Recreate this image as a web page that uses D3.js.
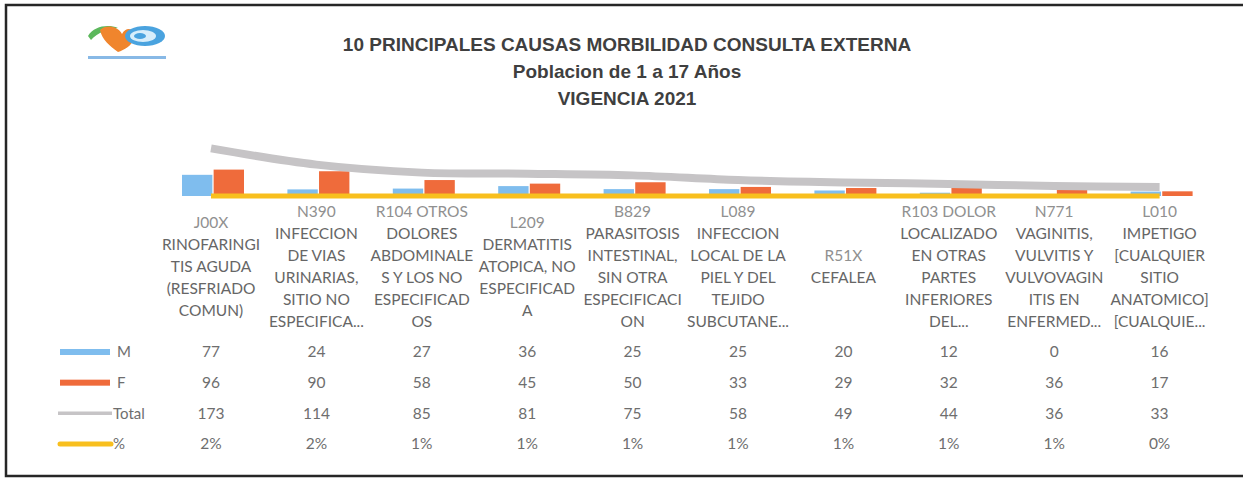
<!DOCTYPE html>
<html>
<head>
<meta charset="utf-8">
<script src="https://cdn.jsdelivr.net/npm/d3@7"></script>
<style>
  body { margin: 0; background: #fff; }
  svg text { font-family: Lato, "Open Sans", sans-serif; }
</style>
</head>
<body>
<svg id="canvas" width="1243" height="480"></svg>
<script>
var codes = ["J00X", "N390", "R104", "L209", "B829", "L089", "R51X", "R103", "N771", "L010"];
var labels = [
  ["J00X", "RINOFARINGI", "TIS AGUDA", "(RESFRIADO", "COMUN)"],
  ["N390", "INFECCION", "DE VIAS", "URINARIAS,", "SITIO NO", "ESPECIFICA..."],
  ["R104 OTROS", "DOLORES", "ABDOMINALE", "S Y LOS NO", "ESPECIFICAD", "OS"],
  ["L209", "DERMATITIS", "ATOPICA, NO", "ESPECIFICAD", "A"],
  ["B829", "PARASITOSIS", "INTESTINAL,", "SIN OTRA", "ESPECIFICACI", "ON"],
  ["L089", "INFECCION", "LOCAL DE LA", "PIEL Y DEL", "TEJIDO", "SUBCUTANE..."],
  ["R51X", "CEFALEA"],
  ["R103 DOLOR", "LOCALIZADO", "EN OTRAS", "PARTES", "INFERIORES", "DEL..."],
  ["N771", "VAGINITIS,", "VULVITIS Y", "VULVOVAGIN", "ITIS EN", "ENFERMED..."],
  ["L010", "IMPETIGO", "[CUALQUIER", "SITIO", "ANATOMICO]", "[CUALQUIE..."]
];
var male   = [77, 24, 27, 36, 25, 25, 20, 12, 0, 16];
var female = [96, 90, 58, 45, 50, 33, 29, 32, 36, 17];
var total  = [173, 114, 85, 81, 75, 58, 49, 44, 36, 33];
var pct    = [2, 2, 1, 1, 1, 1, 1, 1, 1, 0];
var seriesNames = ["M", "F", "Total", "%"];
var titleLines = ["10 PRINCIPALES CAUSAS MORBILIDAD CONSULTA EXTERNA", "Poblacion de 1 a 17 Años", "VIGENCIA 2021"];

var colors = { M: "#7fbdee", F: "#ef6b3b", Total: "#c6c4c6", pct: "#f8bf1e" };

var svg = d3.select('#canvas');

// ---------------------------------------------------------------- frame
svg.append('path').attr('d', 'M1243,5 L6,5 L6,476 L1243,476')
  .attr('fill', 'none').attr('stroke', '#262626').attr('stroke-width', 2.5);

// ---------------------------------------------------------------- logo
var logo = svg.append('g').attr('transform', 'translate(88,24)');
logo.append('path').attr('d', 'M0,12 C6,2 20,0 30,4 C20,5 10,8 3,16 Z').attr('fill', '#5cb85c');
logo.append('path').attr('d', 'M12,6 C18,0 30,2 34,10 C38,2 48,4 46,14 C44,22 36,26 30,28 C22,22 14,16 12,6 Z').attr('fill', '#f0852d');
logo.append('ellipse').attr('cx', 57).attr('cy', 12).attr('rx', 20).attr('ry', 10).attr('fill', '#4aa3df');
logo.append('ellipse').attr('cx', 55).attr('cy', 12).attr('rx', 13).attr('ry', 6).attr('fill', '#d8eefb');
logo.append('ellipse').attr('cx', 52).attr('cy', 12).attr('rx', 6).attr('ry', 3).attr('fill', '#4aa3df');
logo.append('rect').attr('x', 0).attr('y', 32).attr('width', 78).attr('height', 3).attr('fill', '#6aa8e0').attr('opacity', 0.8);

// ---------------------------------------------------------------- title
svg.append('g').selectAll('text').data(titleLines).join('text')
  .attr('x', 627).attr('y', (d, i) => 51 + i * 27)
  .attr('text-anchor', 'middle')
  .style('font-family', '"Liberation Sans", Arial, sans-serif')
  .style('font-weight', 'bold').style('font-size', '19px')
  .attr('fill', '#3f3f3f')
  .text(d => d);

// ---------------------------------------------------------------- scales
var x = d3.scaleBand().domain(codes).range([158.3, 1212.3]);
var xc = c => x(c) + x.bandwidth() / 2;
var x1 = d3.scaleBand().domain(["M", "F"]).range([-29, 33]).paddingInner(0.04);
var y = d3.scaleLinear().domain([0, 200]).range([196, 141]);

var plot = svg.append('g');

// bars
var rows = codes.map((c, i) => ({ code: c, M: male[i], F: female[i] }));
var groups = plot.selectAll('g.grp').data(rows).join('g').attr('class', 'grp')
  .attr('transform', d => 'translate(' + xc(d.code) + ',0)');
groups.selectAll('rect').data(d => ["M", "F"].map(k => ({ k: k, v: d[k] }))).join('rect')
  .attr('x', d => x1(d.k)).attr('width', x1.bandwidth())
  .attr('y', d => y(d.v)).attr('height', d => y(0) - y(d.v))
  .attr('fill', d => colors[d.k]);

// lines (Excel-style smoothed)
var lineGen = d3.line().x(d => xc(d.c)).y(d => y(d.v)).curve(d3.curveCatmullRom);
plot.append('path')
  .attr('d', lineGen(codes.map((c, i) => ({ c: c, v: total[i] }))))
  .attr('fill', 'none').attr('stroke', colors.Total).attr('stroke-width', 8);
plot.append('path')
  .attr('d', lineGen(codes.map((c, i) => ({ c: c, v: pct[i] / 100 }))))
  .attr('fill', 'none').attr('stroke', colors.pct).attr('stroke-width', 5);

// ---------------------------------------------------------------- data table
var table = svg.append('g').attr('fill', '#6e6e6e').style('font-size', '15.5px');

// category labels, vertically centred on y=267
codes.forEach(function (c, i) {
  var lines = labels[i];
  var lh = 22;
  var y0 = 267 - (lines.length - 1) * lh / 2;
  table.append('text').attr('text-anchor', 'middle')
    .selectAll('tspan').data(lines).join('tspan')
    .attr('x', xc(c)).attr('y', (d, j) => y0 + j * lh).attr('dy', '0.35em')
    .attr('fill', (d, j) => j === 0 ? '#909090' : '#666')
    .text(d => d);
});

var rowY = d3.scalePoint().domain(seriesNames).range([352, 444]);
var rowVals = { "M": male, "F": female, "Total": total, "%": pct.map(v => v + '%') };

seriesNames.forEach(function (s) {
  table.append('g').selectAll('text').data(rowVals[s]).join('text')
    .attr('x', (d, i) => xc(codes[i])).attr('y', rowY(s)).attr('dy', '0.35em')
    .attr('text-anchor', 'middle').text(d => d);
});

// legend keys
var key = svg.append('g');
key.append('rect').attr('x', 60).attr('y', rowY("M") - 3).attr('width', 50).attr('height', 6).attr('fill', colors.M);
key.append('rect').attr('x', 60).attr('y', rowY("F") - 3).attr('width', 50).attr('height', 6).attr('fill', colors.F);
key.append('line').attr('x1', 58).attr('x2', 112).attr('y1', rowY("Total")).attr('y2', rowY("Total"))
  .attr('stroke', colors.Total).attr('stroke-width', 3.5);
key.append('line').attr('x1', 60).attr('x2', 111).attr('y1', rowY("%")).attr('y2', rowY("%"))
  .attr('stroke', colors.pct).attr('stroke-width', 5).attr('stroke-linecap', 'round');
key.selectAll('text').data(seriesNames).join('text')
  .attr('x', d => d === "Total" || d === "%" ? 113 : 117).attr('y', d => rowY(d)).attr('dy', '0.35em')
  .attr('fill', '#6e6e6e').style('font-size', '15px').text(d => d);
</script>
</body>
</html>
